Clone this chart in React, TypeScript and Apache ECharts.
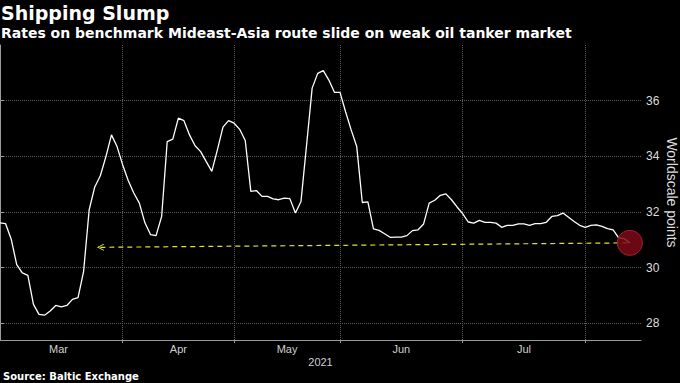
import React, { useEffect, useRef } from 'react';
import * as echarts from 'echarts';

// UK (Baltic Exchange) non-trading weekdays in the period
const holidays = ['2021-04-02', '2021-04-05', '2021-05-03', '2021-05-31'];

function tradingDays(start: string, count: number): string[] {
  const out: string[] = [];
  const d = new Date(start + 'T00:00:00Z');
  while (out.length < count) {
    const wd = d.getUTCDay();
    const s = d.toISOString().slice(0, 10);
    if (wd !== 0 && wd !== 6 && holidays.indexOf(s) < 0) out.push(s);
    d.setUTCDate(d.getUTCDate() + 1);
  }
  return out;
}

// calendar includes Mar 1; the chart's first category is Mar 2
const calendar = tradingDays('2021-03-01', 117);
const categories = calendar.slice(1);

const monthKeys = ['2021-03', '2021-04', '2021-05', '2021-06', '2021-07', '2021-08'];
const monthNames = ['Mar', 'Apr', 'May', 'Jun', 'Jul'];

// Worldscale points, Mideast-Asia route (one value per trading day from Mar 2)
const rates = [
  31.61, 31.58, 31.03, 30.11, 29.81, 29.72, 28.68, 28.32, 28.29, 28.44,
  28.64, 28.59, 28.64, 28.86, 28.92, 29.87, 32.08, 32.9, 33.3, 33.99,
  34.77, 34.35, 33.7, 33.13, 32.68, 32.32, 31.61, 31.19, 31.15, 31.84,
  34.53, 34.62, 35.37, 35.28, 34.77, 34.38, 34.17, 33.81, 33.46, 34.23,
  35.05, 35.28, 35.19, 34.97, 34.57, 32.74, 32.77, 32.56, 32.56, 32.47,
  32.44, 32.5, 32.48, 31.96, 32.38, 34.4, 36.45, 36.98, 37.08, 36.74,
  36.3, 36.3, 35.6, 34.95, 34.35, 32.34, 32.36, 31.39, 31.34, 31.22,
  31.09, 31.1, 31.1, 31.15, 31.33, 31.36, 31.57, 32.32, 32.42, 32.6,
  32.65, 32.44, 32.18, 31.94, 31.64, 31.6, 31.7, 31.63, 31.63, 31.6,
  31.45, 31.52, 31.52, 31.57, 31.57, 31.52, 31.58, 31.58, 31.63, 31.84,
  31.87, 31.96, 31.81, 31.66, 31.52, 31.45, 31.52, 31.54, 31.48, 31.4,
  31.36, 31.07, 31.04, 30.89,
];

const yTicks = [28, 30, 32, 34, 36];

// dashed reference line (start date, end date) and its values
const refLineDates = ['2021-03-26', '2021-08-12'];
const refLineValues = [30.73, 30.89];

// index (in category coordinates) of each month's first trading day
const monthStart = monthKeys.map((k) => calendar.findIndex((c) => c.startsWith(k)) - 1);
const monthMid = monthNames.map((_, i) => (monthStart[i] + monthStart[i + 1]) / 2);
const monthBoundaryIdx = monthStart.filter((i) => i > 0);

const labelFont = '"Liberation Sans", Arial, sans-serif';
const titleFont = '"DejaVu Sans", sans-serif';

export default function App() {
  const ref = useRef<HTMLDivElement>(null);
  useEffect(() => {
    document.body.style.margin = '0';
    document.body.style.background = '#000';
    const chart = echarts.init(ref.current!, undefined, { renderer: 'svg' });
    const lastIdx = rates.length - 1;
    const isBoundary = (index: number) => monthBoundaryIdx.indexOf(index) >= 0;
    chart.setOption({
      animation: false,
      backgroundColor: '#000',
      title: [
        {
          text: 'Shipping Slump',
          left: 1,
          top: 3,
          padding: 0,
          textStyle: { color: '#fff', fontSize: 19, fontWeight: 'bold', fontFamily: titleFont },
        },
        {
          text: 'Rates on benchmark Mideast-Asia route slide on weak oil tanker market',
          left: 1,
          top: 26,
          padding: 0,
          textStyle: { color: '#fff', fontSize: 14, fontWeight: 'bold', fontFamily: titleFont },
        },
        {
          text: 'Source: Baltic Exchange',
          left: 3,
          top: 371,
          padding: 0,
          textStyle: { color: '#fff', fontSize: 10, fontWeight: 'bold', fontFamily: titleFont },
        },
      ],
      grid: {
        left: 0,
        right: 39,
        top: 45,
        bottom: 43,
        containLabel: false,
        outerBoundsMode: 'none',
      },
      xAxis: [
        {
          type: 'category',
          data: categories,
          boundaryGap: false,
          axisLine: { show: true, lineStyle: { color: '#9a9a9a', width: 1 } },
          axisTick: { show: true, interval: isBoundary, length: 3, lineStyle: { color: '#9a9a9a' } },
          axisLabel: { show: false },
          splitLine: {
            show: true,
            interval: isBoundary,
            lineStyle: { type: 'dotted', color: '#5a5a5a', width: 1 },
          },
        },
        {
          type: 'value',
          position: 'bottom',
          min: 0,
          max: categories.length - 1,
          axisLine: { show: false },
          axisTick: { show: false },
          splitLine: { show: false },
          axisLabel: {
            customValues: monthMid,
            formatter: (v: number) => {
              const i = monthMid.findIndex((m) => Math.abs(m - v) < 1e-6);
              return i >= 0 ? monthNames[i] : '';
            },
            color: '#cfcfcf',
            fontSize: 11,
            margin: 3,
            fontFamily: labelFont,
          },
          name: '2021',
          nameLocation: 'middle',
          nameGap: 16,
          nameMoveOverlap: false,
          nameTextStyle: { color: '#cfcfcf', fontSize: 11, fontFamily: labelFont },
        },
      ],
      yAxis: {
        type: 'value',
        position: 'right',
        min: 27.4,
        max: 38,
        axisLine: { show: true, lineStyle: { color: '#9a9a9a', width: 1 } },
        axisTick: { show: true, customValues: yTicks, length: 4, lineStyle: { color: '#9a9a9a' } },
        axisLabel: {
          customValues: yTicks,
          color: '#dddddd',
          fontSize: 12,
          margin: 5,
          fontFamily: labelFont,
        },
        splitLine: { show: true, lineStyle: { type: 'dotted', color: '#5a5a5a', width: 1 } },
        name: 'Worldscale points',
        nameLocation: 'middle',
        nameRotate: -90,
        nameGap: 24,
        nameMoveOverlap: false,
        nameTextStyle: { color: '#dddddd', fontSize: 14, fontFamily: labelFont },
      },
      series: [
        {
          type: 'line',
          xAxisIndex: 0,
          data: rates,
          symbol: 'none',
          lineStyle: { color: '#ffffff', width: 1.3 },
          z: 3,
          markLine: {
            silent: true,
            symbol: ['path://M8,0 L0,5 L8,10 L8,8.6 L2.2,5 L8,1.4 Z', 'none'],
            symbolSize: [7, 7],
            symbolRotate: 0,
            label: { show: false },
            lineStyle: { color: '#e2e22a', type: [5, 4], width: 1.2 },
            data: [
              [
                { coord: [refLineDates[0], refLineValues[0]] },
                { coord: [refLineDates[1], refLineValues[1]] },
              ],
            ],
          },
          markPoint: {
            silent: true,
            symbol: 'circle',
            symbolSize: 25,
            label: { show: false },
            itemStyle: { color: 'rgba(125,10,22,0.85)', borderColor: '#a3202e', borderWidth: 1 },
            data: [{ coord: [categories[lastIdx], rates[lastIdx]] }],
          },
        },
      ],
    });
    return () => chart.dispose();
  }, []);
  return (
    <div
      ref={ref}
      style={{ position: 'fixed', left: 0, top: 0, width: 680, height: 383 }}
    />
  );
}
